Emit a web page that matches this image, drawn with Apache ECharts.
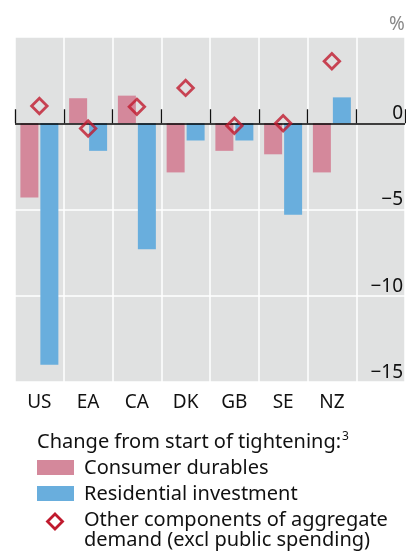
<!DOCTYPE html>
<html><head><meta charset="utf-8">
<script src="https://cdn.jsdelivr.net/npm/echarts@6/dist/echarts.min.js"></script>
<style>html,body{margin:0;padding:0;background:#fff}#c{width:406px;height:554px}</style>
</head><body><div id="c"></div>
<script>
const categories = ['US','EA','CA','DK','GB','SE','NZ',''];
const consumerDurables = [-4.3, 1.45, 1.6, -2.85, -1.6, -1.8, -2.85, null];
const residentialInvestment = [-14.0, -1.6, -7.3, -1.0, -1.0, -5.3, 1.5, null];
const otherComponents = [1.0, -0.3, 0.95, 2.05, -0.15, 0.0, 3.6, null];
const yTicks = [-15, -10, -5, 0, 5];
const seriesNames = ['Consumer durables','Residential investment','Other components of aggregate\ndemand (excl public spending)'];
const legendTitle = 'Change from start of tightening:';
const legendNote = '3';

const FONT = 'Noto Sans';
const PINK = '#d4889b', BLUE = '#69aedd', RED = '#c01a2e';
const chart = echarts.init(document.getElementById('c'), null, {renderer:'canvas'});
chart.setOption({
  animation:false,
  textStyle:{fontFamily:FONT},
  grid:{left:15,right:0,top:37,bottom:172,show:true,backgroundColor:'#e0e1e1',borderWidth:0,containLabel:false},
  xAxis:{type:'category',data:categories,boundaryGap:true,
    axisLine:{show:false},
    axisTick:{show:true,inside:true,length:14,lineStyle:{color:'#111',width:1.3},interval:0},
    axisLabel:{fontSize:19,color:'#111',margin:11,interval:0,fontFamily:FONT},
    splitLine:{show:true,interval:0,lineStyle:{color:'#fff',width:1.5}}},
  yAxis:{type:'value',position:'right',min:yTicks[0],max:yTicks[yTicks.length-1],interval:5,
    axisLine:{show:false},axisTick:{show:false},
    splitLine:{show:true,lineStyle:{color:'#fff',width:1.5}},
    axisLabel:{inside:true,fontSize:19,color:'#111',margin:2,verticalAlign:'bottom',fontFamily:FONT,
      formatter:v=> v===yTicks[yTicks.length-1]? '' : String(v).replace('-','\u2212')}},
  series:[
    {name:seriesNames[0],type:'bar',data:consumerDurables,barWidth:18,barGap:'11%',itemStyle:{color:PINK},
     markLine:{silent:true,symbol:'none',label:{show:false},lineStyle:{color:'#000',width:1.6,type:'solid'},data:[{yAxis:0}]}},
    {name:seriesNames[1],type:'bar',data:residentialInvestment,barWidth:18,itemStyle:{color:BLUE}},
    {name:seriesNames[2],type:'scatter',data:otherComponents,symbol:'diamond',symbolSize:[15.5,15.5],z:5,
     itemStyle:{color:'rgba(0,0,0,0)',borderColor:RED,borderWidth:2.8}}
  ],
  graphic:[
    {type:'text',left:389,top:15,style:{text:'%',font:'19px "'+FONT+'"',fill:'#888'}},
    {type:'text',x:37,y:442,style:{text:'{a|'+legendTitle+'}{s|'+legendNote+'}',verticalAlign:'middle',
      rich:{a:{fontSize:20,fontFamily:FONT,fill:'#111'},s:{fontSize:12,fontFamily:FONT,fill:'#111',verticalAlign:'top',padding:[0,0,10,1]}}}},
    {type:'rect',shape:{x:37,y:460,width:37,height:15},style:{fill:PINK}},
    {type:'text',x:84,y:468,style:{text:seriesNames[0],fontSize:20,fontFamily:FONT,fill:'#111',verticalAlign:'middle'}},
    {type:'rect',shape:{x:37,y:486,width:37,height:15},style:{fill:BLUE}},
    {type:'text',x:84,y:494,style:{text:seriesNames[1],fontSize:20,fontFamily:FONT,fill:'#111',verticalAlign:'middle'}},
    {type:'polygon',shape:{points:[[55,514],[62.5,521.5],[55,529],[47.5,521.5]]},style:{fill:'none',stroke:RED,lineWidth:2.8}},
    {type:'text',x:84,y:510.5,style:{text:seriesNames[2],fontSize:20,fontFamily:FONT,fill:'#111',verticalAlign:'top',lineHeight:20}}
  ]
});
</script></body></html>
